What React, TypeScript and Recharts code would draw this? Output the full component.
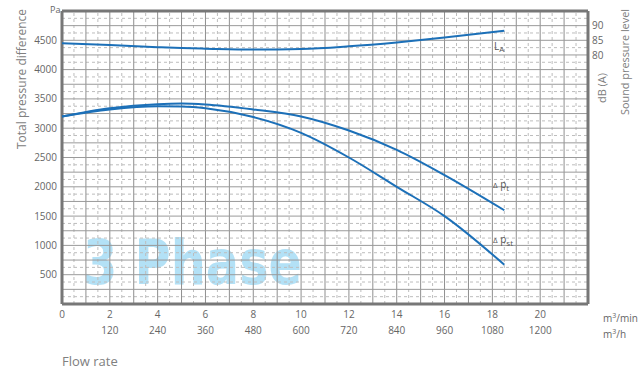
import { LineChart, Line, XAxis, YAxis, ReferenceLine } from 'recharts'

// flow rate in m3/min
const flow = [0, 2, 4, 5, 6, 8, 10, 12, 14, 16, 18.5]
// total pressure difference (Pa)
const pressureTotal = [3200, 3340, 3410, 3420, 3405, 3320, 3200, 2960, 2630, 2200, 1600]
// static pressure difference (Pa)
const pressureStatic = [3200, 3320, 3375, 3370, 3340, 3190, 2920, 2500, 2000, 1500, 670]
// sound pressure level dB(A)
const soundLevel = [84.2, 83.6, 82.9, 82.6, 82.4, 82.1, 82.3, 83.2, 84.5, 86.1, 88.4]

const flowTicks = [0, 2, 4, 6, 8, 10, 12, 14, 16, 18, 20]
const pressureTicks = [500, 1000, 1500, 2000, 2500, 3000, 3500, 4000, 4500]
const soundTicks = [80, 85, 90]

const data = flow.map((f, i) => ({
  flow: f,
  pt: pressureTotal[i],
  pst: pressureStatic[i],
  la: soundLevel[i],
}))

const solidX = Array.from({ length: 21 }, (_, i) => i + 1)
const dashedX = Array.from({ length: 22 }, (_, i) => i + 0.5)
const solidY = Array.from({ length: 19 }, (_, i) => (i + 1) * 250)
const dashedY = Array.from({ length: 20 }, (_, i) => i * 250 + 125)

const FONT = '"Open Sans", "Noto Sans", sans-serif'
const BLUE = '#1c70b8'

function FlowTick(props: any) {
  const { x, y, payload } = props
  const v = payload.value as number
  return (
    <g>
      <text x={x} y={y + 12} textAnchor="middle" fontSize={10} fill="#666" fontFamily={FONT}>
        {v}
      </text>
      {v > 0 && (
        <text x={x} y={y + 28} textAnchor="middle" fontSize={10} fill="#666" fontFamily={FONT}>
          {v * 60}
        </text>
      )}
    </g>
  )
}

export default function App() {
  return (
    <div style={{ position: 'absolute', left: 0, top: 0, width: 640, height: 374, background: '#fff', fontFamily: FONT }}>
      <svg width={640} height={374} style={{ position: 'absolute', left: 0, top: 0 }}>
        <text
          x={83}
          y={284}
          fontSize={62}
          fontWeight="bold"
          fill="#b3e1f6"
          fontFamily='"DejaVu Sans", sans-serif'
          textLength={219}
          lengthAdjust="spacingAndGlyphs"
        >
          3 Phase
        </text>
      </svg>
      <div style={{ position: 'absolute', left: 0, top: 0 }}>
        <LineChart width={640} height={374} data={data} margin={{ top: 11, right: 22, bottom: 40, left: 20 }}>
          <XAxis
            dataKey="flow"
            type="number"
            domain={[0, 22]}
            ticks={flowTicks}
            tick={<FlowTick />}
            tickLine={false}
            axisLine={false}
            tickSize={0}
            height={30}
            interval={0}
          />
          <YAxis
            yAxisId="pa"
            type="number"
            domain={[0, 5000]}
            ticks={pressureTicks}
            tick={{ fontSize: 10, fill: '#666', fontFamily: FONT }}
            tickLine={false}
            axisLine={false}
            tickSize={0}
            tickMargin={5}
            width={42}
            interval={0}
          />
          <YAxis
            yAxisId="db"
            orientation="right"
            type="number"
            domain={[-3, 95]}
            ticks={soundTicks}
            tick={{ fontSize: 10, fill: '#666', fontFamily: FONT }}
            tickLine={false}
            axisLine={false}
            tickSize={0}
            tickMargin={4}
            width={30}
            interval={0}
            allowDataOverflow
          />
          {dashedX.map((v) => (
            <ReferenceLine key={'dx' + v} yAxisId="pa" x={v} stroke="#bdbdbd" strokeDasharray="3 3" />
          ))}
          {dashedY.map((v) => (
            <ReferenceLine key={'dy' + v} yAxisId="pa" y={v} stroke="#bdbdbd" strokeDasharray="3 3" />
          ))}
          {solidX.map((v) => (
            <ReferenceLine key={'sx' + v} yAxisId="pa" x={v} stroke="#8f8f8f" />
          ))}
          {solidY.map((v) => (
            <ReferenceLine key={'sy' + v} yAxisId="pa" y={v} stroke="#9a9a9a" />
          ))}
          <ReferenceLine yAxisId="pa" x={0} stroke="#777" strokeWidth={3} />
          <ReferenceLine yAxisId="pa" x={22} stroke="#777" strokeWidth={3} />
          <ReferenceLine yAxisId="pa" y={0} stroke="#777" strokeWidth={3} />
          <ReferenceLine yAxisId="pa" y={5000} stroke="#777" strokeWidth={3} />
          <Line yAxisId="pa" type="monotone" dataKey="pt" stroke={BLUE} strokeWidth={2} dot={false} isAnimationActive={false} />
          <Line yAxisId="pa" type="monotone" dataKey="pst" stroke={BLUE} strokeWidth={2} dot={false} isAnimationActive={false} />
          <Line yAxisId="db" type="monotone" dataKey="la" stroke={BLUE} strokeWidth={2} dot={false} isAnimationActive={false} />
        </LineChart>
      </div>
      <svg width={640} height={374} style={{ position: 'absolute', left: 0, top: 0, pointerEvents: 'none' }} fontFamily={FONT}>
        <text x={50} y={13} fontSize={9} fill="#666">Pa</text>
        <text
          transform="translate(26,79) rotate(-90)"
          textAnchor="middle"
          fontSize={12}
          fill="#808080"
          textLength={140}
          lengthAdjust="spacingAndGlyphs"
        >
          Total pressure difference
        </text>
        <text
          transform="translate(606,88) rotate(-90)"
          textAnchor="middle"
          fontSize={11}
          fill="#808080"
          textLength={30}
          lengthAdjust="spacingAndGlyphs"
        >
          dB (A)
        </text>
        <text
          transform="translate(629,62) rotate(-90)"
          textAnchor="middle"
          fontSize={11}
          fill="#808080"
          textLength={106}
          lengthAdjust="spacingAndGlyphs"
        >
          Sound pressure level
        </text>
        <text x={603} y={322} fontSize={10} fill="#666">
          m<tspan dy={-4} fontSize={7}>3</tspan><tspan dy={4}>/min</tspan>
        </text>
        <text x={603} y={338} fontSize={10} fill="#666">
          m<tspan dy={-4} fontSize={7}>3</tspan><tspan dy={4}>/h</tspan>
        </text>
        <text x={62} y={366} fontSize={13} fill="#808080">Flow rate</text>
        <text x={494} y={50} fontSize={10} fill="#555">
          L<tspan dy={2} fontSize={8}>A</tspan>
        </text>
        <text x={493} y={188} fontSize={10} fill="#555">
          <tspan fontSize={8}>Δ</tspan> p<tspan dy={3} fontSize={8}>t</tspan>
        </text>
        <text x={493} y={243} fontSize={10} fill="#555">
          <tspan fontSize={8}>Δ</tspan> p<tspan dy={3} fontSize={8}>st</tspan>
        </text>
      </svg>
    </div>
  )
}
